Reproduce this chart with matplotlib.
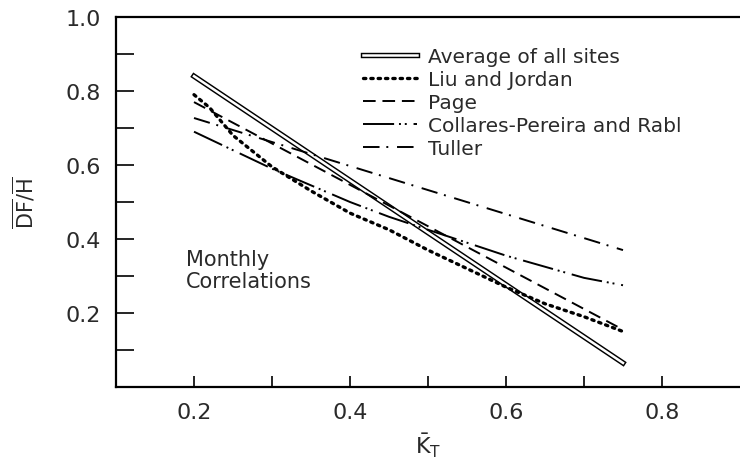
import matplotlib
matplotlib.use('Agg')
import matplotlib.pyplot as plt
import matplotlib.patheffects as pe

# K_T values and monthly diffuse fractions
kt_avg = [0.2, 0.75]
df_avg = [0.84, 0.065]

kt_lj = [0.2, 0.22, 0.25, 0.3, 0.35, 0.4, 0.45, 0.5, 0.55, 0.6, 0.65, 0.7, 0.75]
df_lj = [0.79, 0.755, 0.68, 0.595, 0.53, 0.47, 0.425, 0.37, 0.32, 0.27, 0.225, 0.19, 0.15]

kt_page = [0.2, 0.75]
df_page = [0.77, 0.155]

kt_cp = [0.2, 0.25, 0.3, 0.35, 0.4, 0.45, 0.5, 0.55, 0.6, 0.65, 0.7, 0.75]
df_cp = [0.69, 0.64, 0.59, 0.545, 0.50, 0.46, 0.425, 0.39, 0.355, 0.325, 0.295, 0.275]

kt_tul = [0.2, 0.75]
df_tul = [0.727, 0.37]

xticks = [0.2, 0.4, 0.6, 0.8]
xminor = [0.3, 0.5, 0.7]
yticks = [0.2, 0.4, 0.6, 0.8, 1.0]
yminor = [0.1, 0.3, 0.5, 0.7, 0.9]

txt = '#2a2a2a'
plt.rcParams['font.family'] = 'DejaVu Sans'
plt.rcParams['mathtext.fontset'] = 'dejavusans'

fig = plt.figure(figsize=(7.4, 4.64), dpi=100)
ax = fig.add_axes([116/740, 76/464, 624/740, 370/464])

# double line: black stroke with white core
ax.plot(kt_avg, df_avg, color='white', lw=1.8,
        path_effects=[pe.Stroke(linewidth=3.9, foreground='black'), pe.Normal()],
        label='Average of all sites')
ax.plot(kt_lj, df_lj, color='black', lw=2.4, linestyle=(0, (0.7, 1.5)),
        dash_capstyle='round', label='Liu and Jordan')
ax.plot(kt_page, df_page, color='black', lw=1.4, linestyle=(0, (6.5, 3.5)),
        label='Page')
ax.plot(kt_cp, df_cp, color='black', lw=1.4,
        linestyle=(0, (16, 2.5, 1, 2, 1, 3.5)), label='Collares-Pereira and Rabl')
ax.plot(kt_tul, df_tul, color='black', lw=1.4, linestyle=(0, (8.5, 3.5, 1, 4.5)),
        label='Tuller')

ax.set_xlim(0.1, 0.9)
ax.set_ylim(0, 1.0)
ax.set_xticks(xticks)
ax.set_xticks(xminor, minor=True)
ax.set_yticks(yticks)
ax.set_yticks(yminor, minor=True)
ax.tick_params(axis='x', which='both', direction='in', length=8, width=1.2,
               pad=11, labelsize=16, labelcolor=txt)
ax.tick_params(axis='y', which='both', direction='in', length=13, width=1.2,
               pad=11, labelsize=16, labelcolor=txt)
ax.tick_params(which='both', top=False, right=False)
for s in ['left', 'top', 'bottom']:
    ax.spines[s].set_linewidth(1.6)
ax.spines['right'].set_visible(False)

ax.set_xlabel(r'$\bar{\mathrm{K}}_\mathrm{T}$', fontsize=16, color=txt, labelpad=6)
ax.set_ylabel(r'$\overline{\mathrm{DF}}/\overline{\mathrm{H}}$', fontsize=15,
              color=txt, labelpad=20)

ax.text(0.19, 0.372, 'Monthly\nCorrelations', fontsize=15, color=txt,
        va='top', ha='left', linespacing=1.1)

leg = ax.legend(loc='upper left', bbox_to_anchor=(0.396, 0.918), frameon=False,
                fontsize=14.5, handlelength=2.7, handletextpad=0.5,
                labelspacing=0.2, borderpad=0, borderaxespad=0)
for t in leg.get_texts():
    t.set_color(txt)

fig.savefig('out.png', dpi=100)
